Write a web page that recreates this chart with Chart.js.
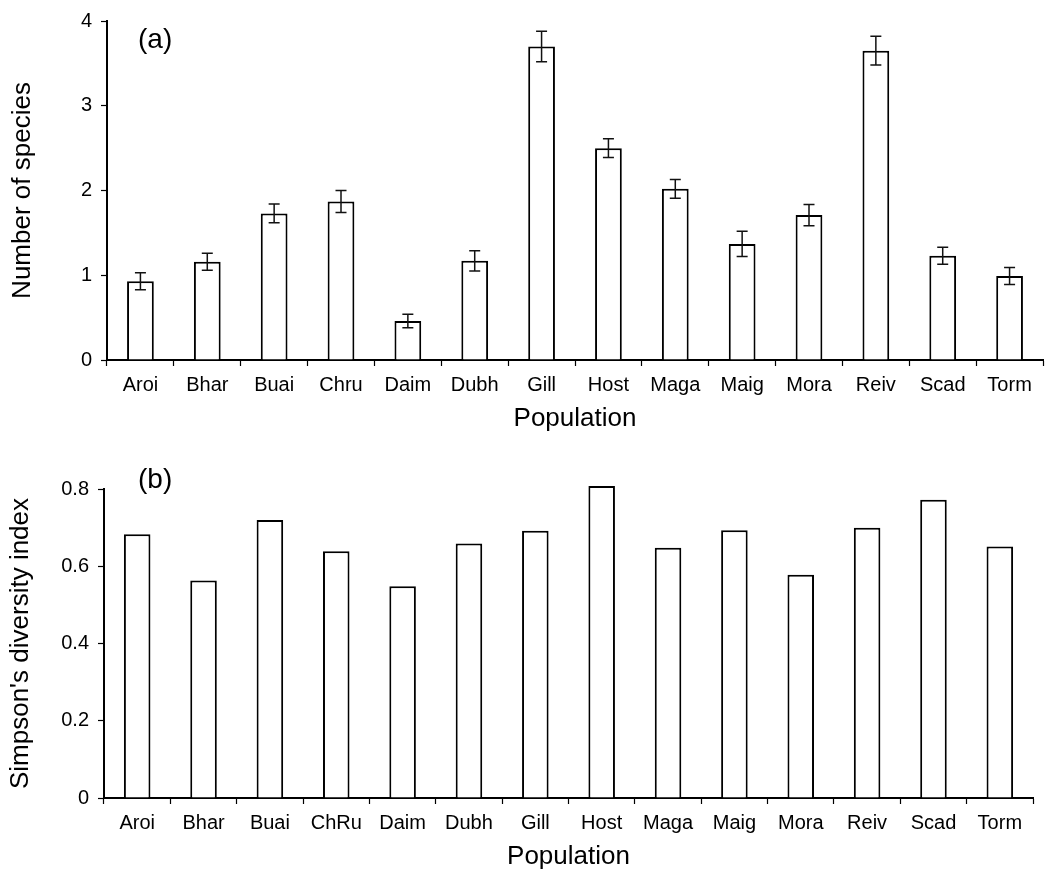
<!DOCTYPE html>
<html>
<head>
<meta charset="utf-8">
<script src="https://cdn.jsdelivr.net/npm/chart.js@4"></script>
<style>
  body { margin: 0; background: #fff; }
  .panel { position: absolute; left: 0; }
</style>
</head>
<body>
<div class="panel" style="top:0"><canvas id="chartA" width="1054" height="440"></canvas></div>
<div class="panel" style="top:440px"><canvas id="chartB" width="1054" height="438"></canvas></div>
<script>
// populations (panel b spells ChRu differently)
const popsA = ['Aroi', 'Bhar', 'Buai', 'Chru', 'Daim', 'Dubh', 'Gill', 'Host', 'Maga', 'Maig', 'Mora', 'Reiv', 'Scad', 'Torm'];
const popsB = ['Aroi', 'Bhar', 'Buai', 'ChRu', 'Daim', 'Dubh', 'Gill', 'Host', 'Maga', 'Maig', 'Mora', 'Reiv', 'Scad', 'Torm'];

// (a) mean number of species, with standard error
const species = [0.93, 1.16, 1.73, 1.87, 0.46, 1.17, 3.70, 2.50, 2.02, 1.37, 1.71, 3.65, 1.23, 0.99];
const speciesErr = [0.10, 0.10, 0.11, 0.13, 0.08, 0.12, 0.18, 0.11, 0.11, 0.15, 0.125, 0.17, 0.10, 0.10];

// (b) Simpson's diversity index
const simpson = [0.683, 0.563, 0.72, 0.639, 0.548, 0.659, 0.692, 0.808, 0.648, 0.693, 0.578, 0.70, 0.772, 0.651];

const FONT = '"Liberation Sans", Arial, sans-serif';

// draws error bars on top of the bars
const errorBars = {
    id: 'errorBars',
    afterDatasetsDraw(chart, args, opts) {
        if (!opts.errors) return;
        const ctx = chart.ctx;
        const y = chart.scales.y;
        const values = chart.data.datasets[0].data;
        ctx.save();
        ctx.strokeStyle = '#111';
        ctx.lineWidth = 1.5;
        chart.getDatasetMeta(0).data.forEach((bar, i) => {
            const hi = y.getPixelForValue(values[i] + opts.errors[i]);
            const lo = y.getPixelForValue(values[i] - opts.errors[i]);
            const x = bar.x;
            ctx.beginPath();
            ctx.moveTo(x, hi); ctx.lineTo(x, lo);
            ctx.moveTo(x - 5.5, hi); ctx.lineTo(x + 5.5, hi);
            ctx.moveTo(x - 5.5, lo); ctx.lineTo(x + 5.5, lo);
            ctx.stroke();
        });
        ctx.restore();
    }
};

// "(a)" / "(b)" label inside the plot
const panelLabel = {
    id: 'panelLabel',
    afterDraw(chart, args, opts) {
        const ctx = chart.ctx;
        const area = chart.chartArea;
        ctx.save();
        ctx.font = '28px ' + FONT;
        ctx.fillStyle = '#000';
        ctx.textBaseline = 'middle';
        ctx.fillText(opts.text, area.left + opts.dx, area.top + opts.dy);
        ctx.restore();
    }
};

function makeChart(id, labels, values, opts) {
    const ctx = document.getElementById(id).getContext('2d');
    return new Chart(ctx, {
        type: 'bar',
        data: {
            labels: labels,
            datasets: [{
                data: values,
                backgroundColor: '#fff',
                borderColor: '#000',
                borderWidth: 2,
                barPercentage: 0.4,
                categoryPercentage: 1.0,
                clip: false
            }]
        },
        plugins: opts.errors ? [errorBars, panelLabel] : [panelLabel],
        options: {
            responsive: false,
            animation: false,
            devicePixelRatio: 1,
            layout: { padding: { top: opts.top, right: opts.right, left: 0, bottom: 0 } },
            plugins: {
                legend: { display: false },
                tooltip: { enabled: false },
                errorBars: { errors: opts.errors },
                panelLabel: opts.label
            },
            scales: {
                x: {
                    grid: { drawOnChartArea: false, color: '#000', tickLength: 6, tickWidth: 1.2 },
                    border: { color: '#000', width: 2 },
                    ticks: { color: '#000', font: { family: FONT, size: 20 }, padding: 7, maxRotation: 0, autoSkip: false },
                    title: { display: true, text: 'Population', color: '#000', font: { family: FONT, size: 26 }, padding: { top: 0, bottom: 6 } },
                    afterFit: s => { s.height = 80; }
                },
                y: {
                    min: 0,
                    max: opts.max,
                    ticks: { stepSize: opts.step, color: '#000', font: { family: FONT, size: 20 }, padding: 9 },
                    grid: { drawOnChartArea: false, color: '#000', tickLength: 6, tickWidth: 1.2 },
                    border: { color: '#000', width: 2 },
                    title: { display: true, text: opts.yTitle, color: '#000', font: { family: FONT, size: 26 }, padding: { top: opts.titlePad, bottom: 0 } },
                    afterFit: s => { s.width = opts.left; }
                }
            }
        }
    });
}

makeChart('chartA', popsA, species, {
    errors: speciesErr, top: 20, right: 11, left: 107, max: 4, step: 1,
    yTitle: 'Number of species', titlePad: 7,
    label: { text: '(a)', dx: 31, dy: 19 }
});

makeChart('chartB', popsB, simpson, {
    errors: null, top: 49, right: 21, left: 104, max: 0.8, step: 0.2,
    yTitle: "Simpson's diversity index", titlePad: 5,
    label: { text: '(b)', dx: 34, dy: -9 }
});
</script>
</body>
</html>
